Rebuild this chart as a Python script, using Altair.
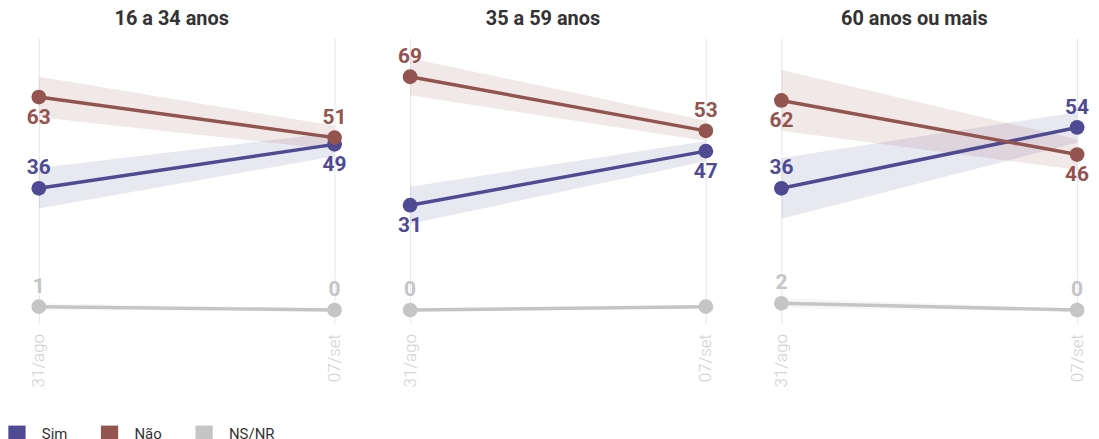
import altair as alt
import pandas as pd

groups = ["16 a 34 anos", "35 a 59 anos", "60 anos ou mais"]
dates = ["31/ago", "07/set"]
series = ["Sim", "Não", "NS/NR"]
colors = ["#4f4a94", "#93534f", "#c5c5c5"]

sim = [[36, 49], [31, 47], [36, 54]]
nao = [[63, 51], [69, 53], [62, 46]]
nsnr = [[1, 0], [0, 1], [2, 0]]

# faixa (margem) em pontos percentuais
moe = [[6, 3.5], [5.5, 3], [9, 4.5]]
moe_ns = [[1, 0.5], [0.5, 0.5], [1.5, 0.5]]

sim_pos = [["above", "below"], ["below", "below"], ["above", "above"]]
nao_pos = [["below", "above"], ["above", "above"], ["below", "below"]]
ns_pos = [["above", "above"], ["above", "above"], ["above", "above"]]
ns_show = [[True, True], [True, False], [True, True]]

color_of = dict(zip(series, colors))
rows = []
for gi, g in enumerate(groups):
    for di, d in enumerate(dates):
        for s, vals, pos in (("Sim", sim, sim_pos), ("Não", nao, nao_pos)):
            v = vals[gi][di]
            m = moe[gi][di]
            rows.append(dict(group=g, date=d, series=s, col=color_of[s], value=v, lo=v - m, hi=v + m,
                             pos=pos[gi][di], show=True))
        v = nsnr[gi][di]
        m = moe_ns[gi][di]
        rows.append(dict(group=g, date=d, series="NS/NR", col=color_of["NS/NR"], value=v,
                         lo=max(v - m, -1), hi=v + m, pos=ns_pos[gi][di], show=ns_show[gi][di]))
df = pd.DataFrame(rows)

FONT = "Roboto"

x_enc = alt.X("date:N", sort=dates,
              scale=alt.Scale(type="point", padding=0.047),
              axis=alt.Axis(title=None, labelAngle=-90, labelColor="#d0d0d0", labelFontSize=17,
                            labelFont=FONT, labelFontWeight=300, labelPadding=10, grid=True,
                            gridColor="#e8e8e8", domain=False, ticks=False,
                            labelAlign="right", labelBaseline="middle"))
y_scale = alt.Scale(domain=[-4, 80.5], nice=False, zero=False)
color_scale = alt.Scale(domain=series, range=colors)
legend = alt.Legend(title=None, orient="none", legendX=-17, legendY=389, direction="horizontal",
                    symbolType="square", symbolSize=300, symbolStrokeWidth=0, symbolOpacity=1,
                    labelFontSize=15, labelFont=FONT, labelColor="#333333", labelOffset=16,
                    columnPadding=33)


def panel(g):
    base = alt.Chart(df[df.group == g])
    band = base.mark_area(opacity=0.13).encode(
        x=x_enc,
        y=alt.Y("lo:Q", scale=y_scale, axis=None),
        y2="hi:Q",
        fill=alt.Fill("col:N", scale=None),
        detail="series:N",
    )
    line = base.mark_line(strokeWidth=3.5).encode(
        x=x_enc,
        y=alt.Y("value:Q", scale=y_scale, axis=None),
        stroke=alt.Stroke("col:N", scale=None),
        detail="series:N",
    )
    pts = base.mark_circle(size=220, opacity=1).encode(
        x=x_enc,
        y=alt.Y("value:Q", scale=y_scale, axis=None),
        color=alt.Color("series:N", scale=color_scale, legend=legend),
    )
    txt_common = dict(font=FONT, fontSize=21, fontWeight="bold", baseline="middle", align="center")
    above = base.transform_filter("datum.pos == 'above' && datum.show").mark_text(dy=-20, **txt_common).encode(
        x=x_enc,
        y=alt.Y("value:Q", scale=y_scale, axis=None),
        text="value:Q",
        fill=alt.Fill("col:N", scale=None),
    )
    below = base.transform_filter("datum.pos == 'below' && datum.show").mark_text(dy=21, **txt_common).encode(
        x=x_enc,
        y=alt.Y("value:Q", scale=y_scale, axis=None),
        text="value:Q",
        fill=alt.Fill("col:N", scale=None),
    )
    return alt.layer(band, line, pts, above, below).properties(
        width=325, height=287,
        title=alt.TitleParams(g, fontSize=20, font=FONT, fontWeight="bold", color="#333333",
                              dx=-15, offset=9, anchor="middle"),
    )


chart = alt.hconcat(*[panel(g) for g in groups], spacing=48).properties(
    padding={"left": 0, "top": 0, "right": 0, "bottom": 0}
).configure_view(stroke=None)

chart.save("out.html", embed_options={"renderer": "svg", "actions": False})
